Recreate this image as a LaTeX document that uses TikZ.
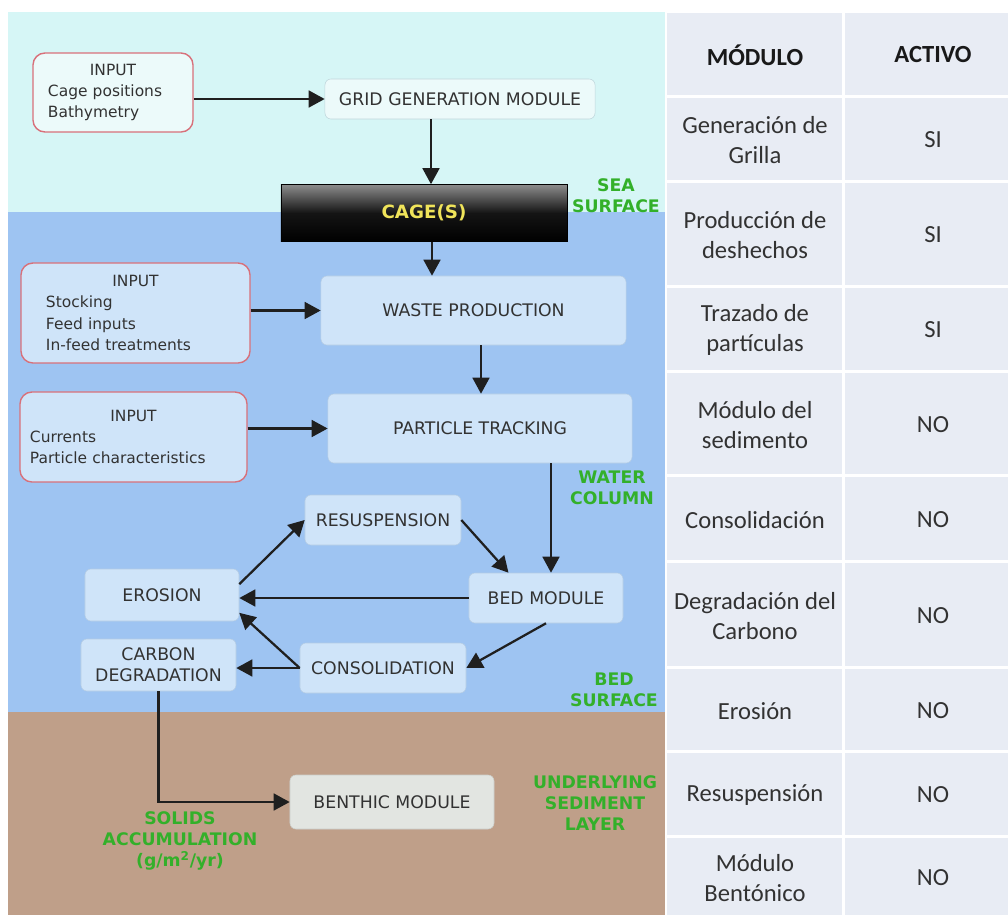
\documentclass[tikz,border=0pt]{standalone}
\usepackage{fontspec}
\setmainfont{DejaVu Sans}
\newfontfamily\tablefont{Carlito}
\usetikzlibrary{arrows.meta}

\definecolor{seacyan}{RGB}{214,246,246}
\definecolor{waterblue}{RGB}{158,196,242}
\definecolor{sediment}{RGB}{191,159,137}
\definecolor{modfill}{RGB}{207,228,249}
\definecolor{modline}{RGB}{180,204,228}
\definecolor{gridfill}{RGB}{236,250,250}
\definecolor{gridline}{RGB}{192,214,220}
\definecolor{inputred}{RGB}{216,112,122}
\definecolor{benthfill}{RGB}{226,229,225}
\definecolor{zonegreen}{RGB}{51,176,42}
\definecolor{cellfill}{RGB}{232,236,244}
\definecolor{textgray}{RGB}{50,50,50}
\definecolor{cageyellow}{RGB}{240,228,90}

\begin{document}
\begin{tikzpicture}[x=0.025cm,y=-0.025cm]
\tikzstyle{every node}+=[inner sep=0pt, text=textgray]
\tikzstyle{module}=[draw=modline, fill=modfill, rounded corners=1.5mm, font=\fontsize{12.3}{15}\selectfont, align=center]
\tikzstyle{inputbox}=[draw=inputred, line width=1pt, fill=modfill, rounded corners=3mm, font=\fontsize{11}{15}\selectfont, align=left]
\tikzstyle{flow}=[-{Triangle[length=4mm,width=4.2mm]}, line width=1.6pt, black!88]
\tikzstyle{zone}=[text=zonegreen, font=\bfseries\fontsize{12.3}{15}\selectfont, align=center]
\tikzstyle{cell}=[text=textgray, font=\tablefont\fontsize{17.5}{21.5}\selectfont, align=center]
\tikzstyle{headcell}=[text=black!90, font=\tablefont\bfseries\fontsize{17.5}{21.5}\selectfont]
\useasboundingbox (0,0) rectangle (1008,915);
% layers
\fill [seacyan] (8,12) rectangle (665,212);
\fill [waterblue] (8,212) rectangle (665,712);
\fill [sediment] (8,712) rectangle (665,915);
% table
\fill [cellfill] (667,13) rectangle (842,95);
\fill [cellfill] (845,13) rectangle (1008,95);
\fill [cellfill] (667,98) rectangle (842,180);
\fill [cellfill] (845,98) rectangle (1008,180);
\fill [cellfill] (667,183) rectangle (842,285);
\fill [cellfill] (845,183) rectangle (1008,285);
\fill [cellfill] (667,288) rectangle (842,370);
\fill [cellfill] (845,288) rectangle (1008,370);
\fill [cellfill] (667,373) rectangle (842,474);
\fill [cellfill] (845,373) rectangle (1008,474);
\fill [cellfill] (667,477) rectangle (842,560);
\fill [cellfill] (845,477) rectangle (1008,560);
\fill [cellfill] (667,563) rectangle (842,666);
\fill [cellfill] (845,563) rectangle (1008,666);
\fill [cellfill] (667,669) rectangle (842,750);
\fill [cellfill] (845,669) rectangle (1008,750);
\fill [cellfill] (667,753) rectangle (842,835);
\fill [cellfill] (845,753) rectangle (1008,835);
\fill [cellfill] (667,838) rectangle (842,915);
\fill [cellfill] (845,838) rectangle (1008,915);
\node [headcell] (hmod) at (755,55) {MÓDULO};
\node [headcell] (hact) at (933,55) {ACTIVO};
\node [cell] (mod1) at (755,140) {Generación de\\Grilla};
\node [cell] (act1) at (933,140) {SI};
\node [cell] (mod2) at (755,235) {Producción de\\deshechos};
\node [cell] (act2) at (933,235) {SI};
\node [cell] (mod3) at (755,330) {Trazado de\\partículas};
\node [cell] (act3) at (933,330) {SI};
\node [cell] (mod4) at (755,425) {Módulo del\\sedimento};
\node [cell] (act4) at (933,425) {NO};
\node [cell] (mod5) at (755,520) {Consolidación};
\node [cell] (act5) at (933,520) {NO};
\node [cell] (mod6) at (755,616) {Degradación del\\Carbono};
\node [cell] (act6) at (933,616) {NO};
\node [cell] (mod7) at (755,711) {Erosión};
\node [cell] (act7) at (933,711) {NO};
\node [cell] (mod8) at (755,795) {Resuspensión};
\node [cell] (act8) at (933,795) {NO};
\node [cell] (mod9) at (755,878) {Módulo\\Bentónico};
\node [cell] (act9) at (933,878) {NO};
% boxes
\node [inputbox, fill=gridfill, minimum width=4cm, minimum height=1.975cm, text width=3.25cm] (in1) at (113,92.5) {{\centering INPUT\par}Cage positions\\Bathymetry};
\node [module, draw=gridline, fill=gridfill, minimum width=6.75cm, minimum height=1cm] (grid) at (460,99) {GRID GENERATION MODULE};
\node [draw=black, top color=black!45, bottom color=black, middle color=black!92, minimum width=7.15cm, minimum height=1.425cm, text=cageyellow, font=\bfseries\fontsize{13}{15}\selectfont] (cage) at (424,213) {CAGE(S)};
\node [inputbox, minimum width=5.725cm, minimum height=2.5cm, text width=4.475cm] (in2) at (135.5,313) {{\centering INPUT\par}Stocking\\Feed inputs\\In-feed treatments};
\node [module, minimum width=7.625cm, minimum height=1.725cm] (waste) at (473.5,310.5) {WASTE PRODUCTION};
\node [inputbox, minimum width=5.675cm, minimum height=2.25cm, text width=5.175cm] (in3) at (133.5,437) {{\centering INPUT\par}Currents\\Particle characteristics};
\node [module, minimum width=7.6cm, minimum height=1.725cm] (track) at (480,428.5) {PARTICLE TRACKING};
\node [module, minimum width=3.9cm, minimum height=1.25cm] (resusp) at (383,520) {RESUSPENSION};
\node [module, minimum width=3.85cm, minimum height=1.3cm] (erosion) at (162,595) {EROSION};
\node [module, minimum width=3.85cm, minimum height=1.25cm] (bed) at (546,598) {BED MODULE};
\node [module, minimum width=3.875cm, minimum height=1.3cm] (carbon) at (158.5,665) {CARBON\\DEGRADATION};
\node [module, minimum width=4.15cm, minimum height=1.25cm] (consol) at (383,668) {CONSOLIDATION};
\node [module, draw=benthfill!90!black, fill=benthfill, minimum width=5.1cm, minimum height=1.35cm] (benthic) at (392,802) {BENTHIC MODULE};
% zone labels
\node [zone] (seasurf) at (616,196) {SEA\\SURFACE};
\node [zone] (watercol) at (612,488) {WATER\\COLUMN};
\node [zone] (bedsurf) at (614,690) {BED\\SURFACE};
\node [zone] (layer) at (595,803) {UNDERLYING\\SEDIMENT\\LAYER};
\node [zone] (solids) at (180,841) {SOLIDS\\ACCUMULATION\\(g/m\textsuperscript{2}/yr)};
% connectors
\draw [flow] (grid.west -| in1.east) -- (grid.west);
\draw [flow] (grid.south -| 431,0) -- (cage.north -| 431,0);
\draw [flow] (cage.south -| 432,0) -- (waste.north -| 432,0);
\draw [flow] (waste.west -| in2.east) -- (waste.west);
\draw [flow] (waste.south -| 481,0) -- (track.north -| 481,0);
\draw [flow] (track.west -| in3.east) -- (track.west);
\draw [flow] (track.south -| 551,0) -- (bed.north -| 551,0);
\draw [flow] (erosion.8) -- (resusp.west);
\draw [flow] (resusp.east) -- (bed.146);
\draw [flow] (bed.west) -- (erosion.east |- bed.west);
\draw [flow] (bed.south) -- (consol.east);
\draw [flow] (consol.west) -- (erosion.-13);
\draw [flow] (consol.west) -- (carbon.east |- consol.west);
\draw [flow] (carbon.south) |- (benthic.west);
\end{tikzpicture}
\end{document}
